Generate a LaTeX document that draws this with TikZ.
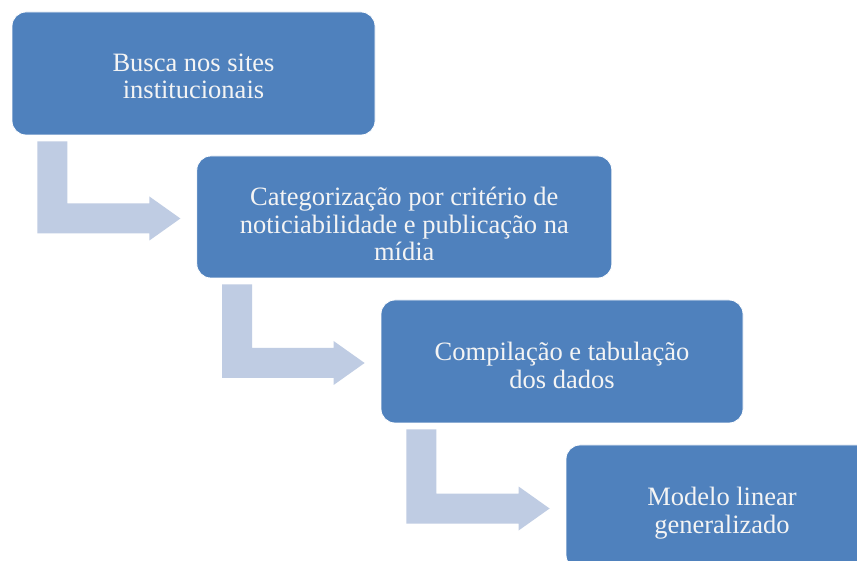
\documentclass[tikz,border=0pt]{standalone}
\usepackage{fontspec}
\setmainfont{Liberation Serif}
\usetikzlibrary{calc}
\definecolor{boxblue}{HTML}{4F81BD}
\definecolor{arrowblue}{HTML}{BFCCE3}
\definecolor{txt}{HTML}{F4F4F4}
\tikzset{
  stepbox/.style={rectangle, rounded corners=14pt, fill=boxblue, draw=white, line width=0.8pt,
    text=txt, align=center, font=\fontsize{26.5}{27.5}\selectfont, inner sep=0pt},
}
% lowers the text block by half of (#1 - 18pt)
\newcommand{\lowr}[1]{\rule{0pt}{#1}}
\newcommand{\bentarrow}[2]{%
  \path let \p1=($(#1.south west)+(25.7,-6)$), \p2=($(#2.west)+(-16,-1.5)$) in
    [fill=arrowblue] (\x1,\y1) -- (\x1+30,\y1) -- (\x1+30,\y2+15) -- (\x2-31,\y2+15)
    -- (\x2-31,\y2+22) -- (\x2,\y2) -- (\x2-31,\y2-22) -- (\x2-31,\y2-15) -- (\x1,\y2-15) -- cycle;}
\begin{document}
\begin{tikzpicture}[x=1pt,y=1pt]
\useasboundingbox (0,0) rectangle (857,560);
\clip (0,0) rectangle (857,560);
\fill[white] (0,0) rectangle (857,560);
\node[stepbox, minimum width=363pt, minimum height=123pt] (b1) at (193.5,486.5) {\lowr{23pt}Busca nos sites\\institucionais};
\node[stepbox, minimum width=415pt, minimum height=122pt] (b2) at (404.3,343) {\lowr{33pt}Categorização por critério de\\noticiabilidade e publicação na\\mídia};
\node[stepbox, minimum width=362pt, minimum height=123pt] (b3) at (562,198.5) {\lowr{26pt}Compilação e tabulação\\dos dados};
\node[stepbox, minimum width=312pt, minimum height=124pt] (b4) at (722,53) {\lowr{31pt}Modelo linear\\generalizado};
\bentarrow{b1}{b2}
\bentarrow{b2}{b3}
\bentarrow{b3}{b4}
\end{tikzpicture}
\end{document}
